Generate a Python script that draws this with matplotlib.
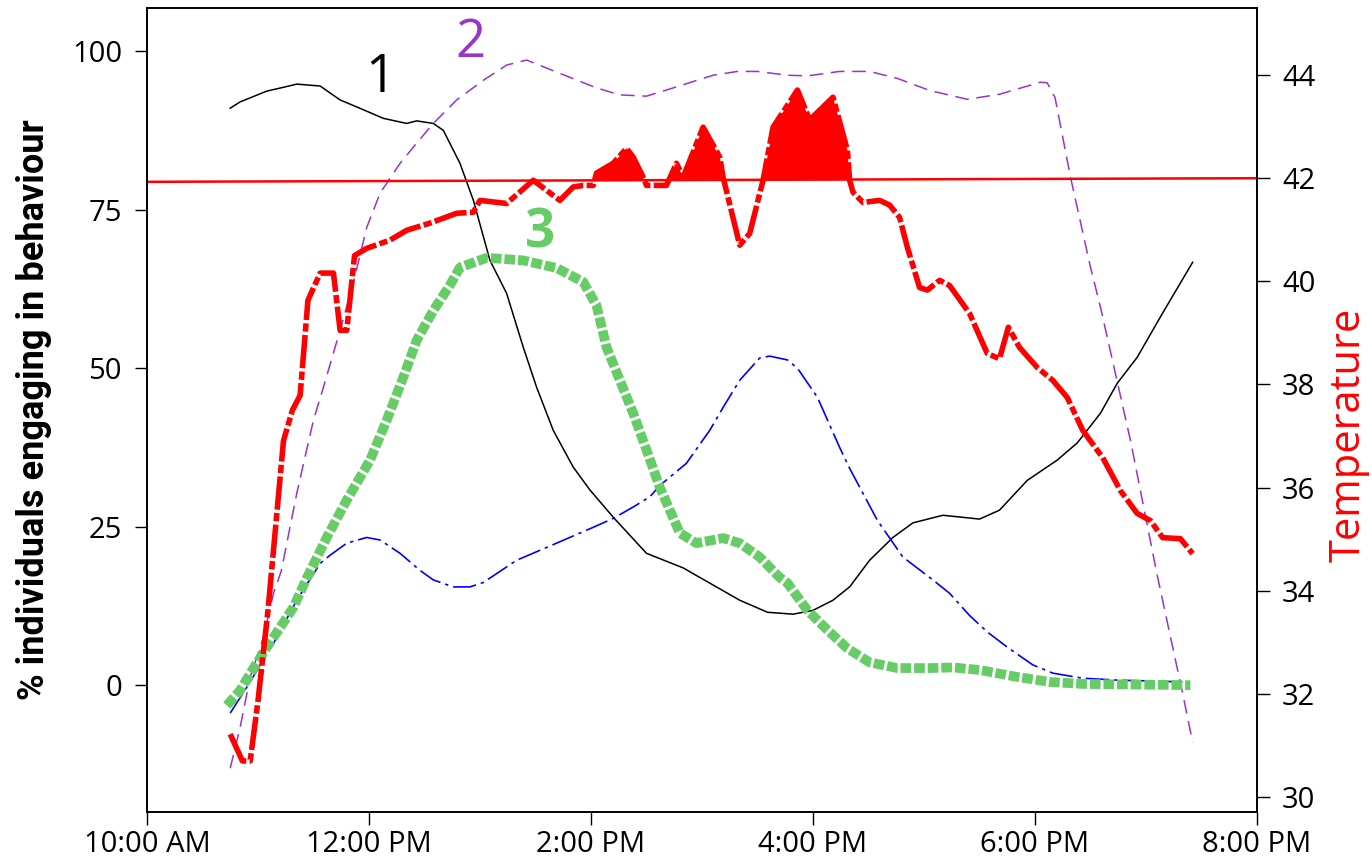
import numpy as np
import matplotlib
matplotlib.use("Agg")
import matplotlib.pyplot as plt

plt.rcParams['font.family'] = ['Open Sans', 'DejaVu Sans']

# time of day in decimal hours
t_temp = [10.75, 10.86, 10.93, 11.00, 11.09, 11.23, 11.31, 11.38, 11.45, 11.56, 11.68, 11.74,
          11.80, 11.87, 11.98, 12.19, 12.34, 12.55, 12.79, 12.94, 13.00, 13.24, 13.48, 13.72,
          13.84, 13.93, 14.02, 14.05, 14.20, 14.32, 14.38, 14.47, 14.50, 14.68, 14.77, 14.83,
          15.01, 15.16, 15.19, 15.34, 15.43, 15.55, 15.64, 15.86, 15.97, 16.18, 16.31, 16.33,
          16.36, 16.45, 16.60, 16.69, 16.78, 16.85, 16.96, 17.03, 17.14, 17.23, 17.41, 17.57,
          17.68, 17.76, 17.86, 18.02, 18.16, 18.29, 18.43, 18.61, 18.77, 18.92, 19.04, 19.15,
          19.31, 19.42]
temperature = [31.22, 30.70, 30.70, 31.86, 33.61, 36.91, 37.50, 37.79, 39.63, 40.16, 40.16, 39.05,
               39.05, 40.50, 40.64, 40.80, 40.99, 41.13, 41.32, 41.34, 41.57, 41.51, 41.96, 41.57,
               41.83, 41.86, 41.86, 42.10, 42.29, 42.58, 42.41, 42.02, 41.86, 41.86, 42.29, 42.02,
               42.99, 42.41, 42.02, 40.70, 40.93, 41.96, 42.99, 43.71, 43.13, 43.57, 42.54, 41.96,
               41.73, 41.53, 41.57, 41.48, 41.24, 40.66, 39.88, 39.83, 40.02, 39.92, 39.38, 38.60,
               38.50, 39.11, 38.72, 38.33, 38.08, 37.75, 37.11, 36.58, 35.94, 35.50, 35.36, 35.03,
               35.01, 34.72]
thresh_t = [10.0, 20.0]
thresh_temp = [41.93, 42.0]

t_b1 = [10.75, 10.84, 11.08, 11.23, 11.35, 11.56, 11.74, 11.89, 12.13, 12.34, 12.43, 12.58,
        12.67, 12.82, 12.94, 13.09, 13.24, 13.39, 13.51, 13.66, 13.84, 13.99, 14.20, 14.50,
        14.83, 15.10, 15.34, 15.59, 15.82, 16.00, 16.18, 16.33, 16.51, 16.72, 16.90, 17.17,
        17.50, 17.68, 17.93, 18.20, 18.38, 18.59, 18.74, 18.92, 19.15, 19.42]
b1 = [91.0, 92.0, 93.7, 94.3, 94.8, 94.5, 92.3, 91.2, 89.4, 88.6, 89.0, 88.6,
      87.5, 82.3, 76.5, 67.0, 61.8, 53.3, 47.0, 40.2, 34.4, 30.8, 26.5, 20.8,
      18.5, 15.8, 13.4, 11.5, 11.2, 11.8, 13.4, 15.5, 19.7, 23.3, 25.6, 26.8,
      26.2, 27.6, 32.3, 35.5, 38.2, 42.9, 47.6, 51.7, 58.7, 66.7]

t_b2 = [10.75, 10.84, 10.93, 11.05, 11.14, 11.21, 11.35, 11.50, 11.59, 11.74, 11.85, 11.98,
        12.10, 12.28, 12.43, 12.58, 12.79, 13.03, 13.24, 13.42, 13.69, 14.05, 14.26, 14.50,
        14.74, 15.10, 15.32, 15.50, 15.77, 15.95, 16.24, 16.51, 16.76, 17.05, 17.39, 17.68,
        18.05, 18.11, 18.18, 18.32, 18.50, 18.59, 18.86, 19.10, 19.33, 19.42]
b2 = [-13.1, -6.6, 1.3, 7.6, 14.5, 18.0, 30.3, 41.8, 47.0, 56.0, 62.8, 72.2,
      77.6, 82.3, 85.5, 88.6, 92.3, 95.4, 97.8, 98.6, 96.7, 94.2, 93.1, 92.9,
      94.2, 96.2, 96.8, 96.8, 96.2, 96.1, 96.8, 96.8, 95.7, 93.8, 92.4, 93.2,
      95.1, 95.0, 92.7, 80.1, 65.9, 59.6, 38.6, 17.4, -1.3, -9.0]

t_b3 = [10.72, 10.84, 10.95, 11.08, 11.20, 11.32, 11.44, 11.62, 11.80, 12.01, 12.16, 12.31,
        12.43, 12.58, 12.73, 12.82, 13.06, 13.39, 13.69, 13.93, 14.05, 14.14, 14.26, 14.38,
        14.50, 14.62, 14.71, 14.80, 14.95, 15.19, 15.34, 15.52, 15.70, 15.77, 15.95, 16.13,
        16.31, 16.51, 16.76, 17.05, 17.26, 17.50, 17.84, 18.14, 18.43, 19.40]
b3 = [-3.2, -0.8, 2.4, 6.0, 9.1, 12.3, 16.9, 23.3, 29.2, 35.5, 41.8, 48.6,
      54.4, 59.1, 63.1, 65.9, 67.4, 67.0, 65.8, 63.6, 59.9, 53.3, 48.1, 42.9,
      37.1, 31.2, 27.6, 24.0, 22.4, 23.2, 22.4, 20.2, 17.0, 16.1, 11.8, 8.7,
      5.8, 3.6, 2.7, 2.7, 2.8, 2.4, 1.3, 0.5, 0.2, 0.0]

t_b4 = [10.75, 10.90, 11.14, 11.35, 11.56, 11.65, 11.80, 11.98, 12.10, 12.28, 12.46, 12.58,
        12.76, 12.91, 13.03, 13.33, 13.69, 14.02, 14.20, 14.38, 14.53, 14.62, 14.86, 15.07,
        15.19, 15.34, 15.52, 15.61, 15.77, 15.86, 16.04, 16.24, 16.33, 16.58, 16.81, 17.08,
        17.23, 17.41, 17.57, 17.75, 17.98, 18.16, 18.43, 18.74, 19.38]
b4 = [-4.4, -0.3, 6.6, 13.4, 19.2, 20.5, 22.4, 23.3, 22.9, 20.8, 18.1, 16.6,
      15.5, 15.5, 16.2, 19.7, 22.4, 24.9, 26.3, 28.1, 29.7, 31.5, 35.0, 40.2,
      43.8, 48.1, 51.6, 51.9, 51.3, 50.0, 45.4, 37.5, 34.2, 26.0, 20.2, 16.6,
      14.5, 11.0, 8.4, 6.0, 3.2, 1.9, 1.1, 0.8, 0.5]

x_ticks = [10, 12, 14, 16, 18, 20]
x_labels = ['10:00 AM', '12:00 PM', '2:00 PM', '4:00 PM', '6:00 PM', '8:00 PM']
pct_ticks = [0, 25, 50, 75, 100]
temp_ticks = [30, 32, 34, 36, 38, 40, 42, 44]

fig = plt.figure(figsize=(13.72, 8.63), dpi=100)
ax = fig.add_axes([0.1071, 0.0591, 0.8091, 0.9316])
ax2 = ax.twinx()

ax.plot(t_b1, b1, color='black', lw=1.1)
ax.plot(t_b2, b2, color='#9933cc', lw=1.1, linestyle=(0, (9, 5)))
ax.plot(t_b4, b4, color='blue', lw=1.2, linestyle=(0, (14, 3, 2, 3)))
ax.plot(t_b3, b3, color='#66cc66', lw=7, linestyle=(0, (1.1, 0.3)), solid_capstyle='butt',
        dash_capstyle='butt')

ax.text(12.10, 95.7, '1', fontsize=38, color='black', ha='center', va='center')
ax.text(12.91, 101.3, '2', fontsize=38, color='#9933cc', ha='center', va='center')
ax.text(13.54, 71.3, '3', fontsize=38, color='#66cc66', fontweight='bold', ha='center', va='center')

tt = np.array(t_temp)
temp = np.array(temperature)
thr = np.interp(tt, thresh_t, thresh_temp)
ax2.fill_between(tt, thr, temp, where=temp > thr, interpolate=True, color='red', lw=0)
ax2.plot(thresh_t, thresh_temp, color='red', lw=1.8)
ax2.plot(tt, temp, color='red', lw=4, linestyle=(0, (6, 0.6, 1.5, 0.6)))

ax.set_xlim(10, 20)
ax.set_ylim(-20, 106.8)
ax2.set_ylim(29.71, 45.3)

ax.set_xticks(x_ticks)
ax.set_xticklabels(x_labels)
ax.set_yticks(pct_ticks)
ax2.set_yticks(temp_ticks)

for a in (ax, ax2):
    a.tick_params(labelsize=21, length=9, width=1, direction='out')
    a.tick_params(axis='y', pad=9)
    a.tick_params(axis='x', pad=4)
    for s in a.spines.values():
        s.set_linewidth(1.2)

ax.set_ylabel('% individuals engaging in behaviour', fontsize=26, fontweight='bold',
              family=['Roboto', 'DejaVu Sans'], labelpad=14)
ax2.set_ylabel('Temperature', fontsize=30, color='red')
ax2.yaxis.set_label_coords(1.064, 0.469)

fig.savefig('out.png', dpi=100)
